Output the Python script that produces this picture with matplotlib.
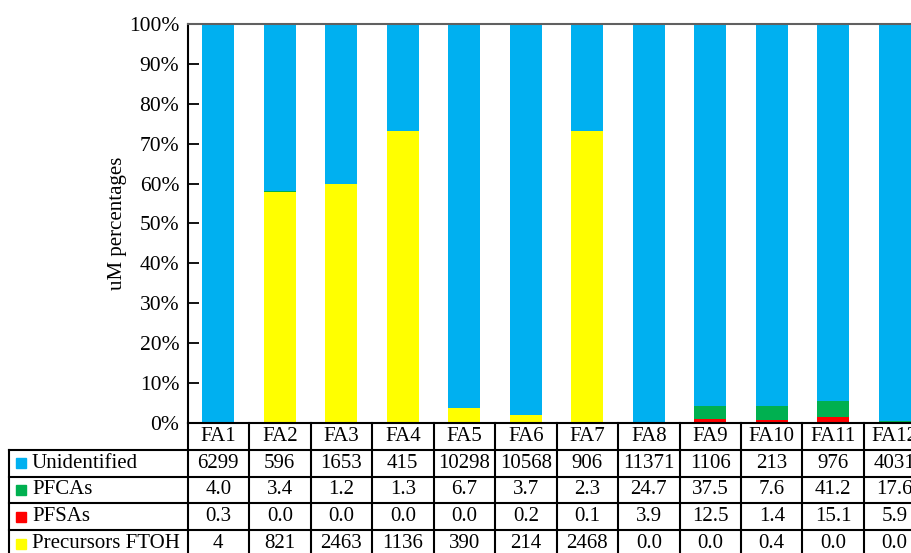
import matplotlib
matplotlib.use('Agg')
import matplotlib.pyplot as plt
import numpy as np

plt.rcParams['font.family'] = ['Liberation Serif', 'DejaVu Serif']

# 数据（表格中的数值）
samples = ['FA1', 'FA2', 'FA3', 'FA4', 'FA5', 'FA6', 'FA7', 'FA8', 'FA9', 'FA10', 'FA11', 'FA12']
unidentified = [6299, 596, 1653, 415, 10298, 10568, 906, 11371, 1106, 213, 976, 4031]
pfcas = [4.0, 3.4, 1.2, 1.3, 6.7, 3.7, 2.3, 24.7, 37.5, 7.6, 41.2, 17.6]
pfsas = [0.3, 0.0, 0.0, 0.0, 0.0, 0.2, 0.1, 3.9, 12.5, 1.4, 15.1, 5.9]
ftoh = [4, 821, 2463, 1136, 390, 214, 2468, 0.0, 0.0, 0.4, 0.0, 0.0]

row_names = ['Unidentified', 'PFCAs', 'PFSAs', 'Precursors FTOH']
colors = {'Unidentified': '#00B0F0', 'PFCAs': '#00B050', 'PFSAs': '#FF0000', 'Precursors FTOH': '#FFFF00'}

rows = {'Unidentified': unidentified, 'PFCAs': pfcas, 'PFSAs': pfsas, 'Precursors FTOH': ftoh}

fs = 15


def fmt(name, v):
    if name == 'Unidentified':
        return '%d' % v
    if name == 'Precursors FTOH' and v >= 1:
        return '%d' % v
    return '%.1f' % v


fig = plt.figure(figsize=(9.12, 5.53), dpi=100)
ax = fig.add_axes([0.2056, 0.2351, 1.0148 - 0.2056, 0.7215])

x = np.arange(len(samples))
total = np.array(unidentified) + np.array(pfcas) + np.array(pfsas) + np.array(ftoh)

# 堆叠百分比柱状图（从下到上）
bottom = np.zeros(len(samples))
for name in ['Precursors FTOH', 'PFSAs', 'PFCAs', 'Unidentified']:
    pct = np.array(rows[name]) / total * 100
    ax.bar(x, pct, width=0.52, bottom=bottom, color=colors[name], linewidth=0)
    bottom += pct

ax.set_xlim(-0.5, len(samples) - 0.5)
ax.set_ylim(0, 100)
ax.set_yticks(np.arange(0, 101, 10))
ax.set_yticklabels(['%d%%' % v for v in range(0, 101, 10)], fontsize=fs + 0.5)
ax.tick_params(axis='y', direction='in', length=8, width=1.3, pad=6)
ax.set_xticks([])
ax.set_ylabel('uM percentages', fontsize=fs, labelpad=1)
for s in ['left', 'bottom']:
    ax.spines[s].set_linewidth(1.5)
ax.spines['top'].set_color('#606060')
ax.spines['top'].set_linewidth(1.5)

# 表格
trans = ax.get_xaxis_transform()
h = 26.8 / 399.0
n = len(samples)
lab_left = -0.5 - 179.0 / 61.5
lw = 1.5
# 横线
for k in range(1, 6):
    ax.plot([lab_left, n - 0.5], [-h * k, -h * k], color='k', lw=lw, transform=trans, clip_on=False)
# 竖线
for k in range(n + 1):
    ax.plot([k - 0.5, k - 0.5], [0, -5 * h], color='k', lw=lw, transform=trans, clip_on=False)
ax.plot([lab_left, lab_left], [-h, -5 * h], color='k', lw=lw, transform=trans, clip_on=False)

for i, s in enumerate(samples):
    ax.text(i, -0.5 * h, s, ha='center', va='center', fontsize=fs, transform=trans, clip_on=False)
for r, name in enumerate(row_names):
    yc = -h * (r + 1.5)
    ax.plot([lab_left + 0.21], [yc], marker='s', ms=6.5, color=colors[name], transform=trans, clip_on=False)
    ax.text(lab_left + 0.38, yc, name, ha='left', va='center', fontsize=fs, transform=trans, clip_on=False)
    for i, v in enumerate(rows[name]):
        ax.text(i, yc, fmt(name, v), ha='center', va='center', fontsize=fs, transform=trans, clip_on=False)

fig.savefig('out.png', dpi=100)
